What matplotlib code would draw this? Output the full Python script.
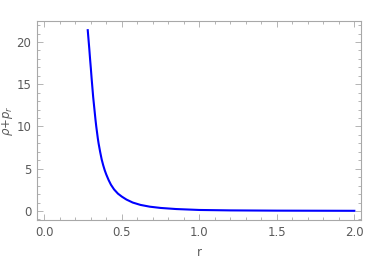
import matplotlib
matplotlib.use('agg')
import matplotlib.pyplot as plt
from matplotlib.ticker import MultipleLocator

# curve
r_vals = [0.280, 0.285, 0.290, 0.295, 0.300, 0.305, 0.310, 0.315, 0.320,
          0.325, 0.330, 0.335, 0.340, 0.345, 0.350, 0.360, 0.370, 0.380,
          0.390, 0.400, 0.415, 0.430, 0.450, 0.475, 0.50, 0.53, 0.57,
          0.62, 0.68, 0.75, 0.85, 1.0, 1.2, 1.5, 2.0]
rho_pr = [21.4, 20.3, 19.2, 18.0, 16.9, 15.7, 14.6, 13.5, 12.6,
          11.7, 10.8, 10.0, 9.3, 8.6, 8.0, 7.0, 6.1, 5.4,
          4.8, 4.3, 3.65, 3.1, 2.55, 2.05, 1.7, 1.35, 1.0,
          0.72, 0.51, 0.36, 0.23, 0.12, 0.07, 0.04, 0.02]

x_ticks = [0.0, 0.5, 1.0, 1.5, 2.0]
y_ticks = [0, 5, 10, 15, 20]

frame_col = '#a8a8a8'
text_col = '#5a5a5a'

fig = plt.figure(figsize=(3.82, 2.61), dpi=100)
ax = fig.add_axes([0.097, 0.157, 0.848, 0.763])

ax.plot(r_vals, rho_pr, color='#0000ff', lw=1.5)

ax.set_xlim(-0.047, 2.043)
ax.set_ylim(-1.07, 22.5)
ax.set_xticks(x_ticks)
ax.set_xticklabels(["{:.1f}".format(t) for t in x_ticks])
ax.set_yticks(y_ticks)
ax.xaxis.set_minor_locator(MultipleLocator(0.1))
ax.yaxis.set_minor_locator(MultipleLocator(1))

for s in ax.spines.values():
    s.set_color(frame_col)
    s.set_linewidth(0.8)

ax.tick_params(which='both', direction='in', top=True, right=True,
               color=frame_col, labelcolor=text_col, labelsize=8.5, width=0.6)
ax.tick_params(which='major', length=4, pad=4)
ax.tick_params(which='minor', length=2)

ax.set_xlabel("r", color=text_col, fontsize=8.5, labelpad=5)
ax.set_ylabel(r"$\rho$+$p_r$", color=text_col, fontsize=8.5, labelpad=1)

fig.savefig("out.png", dpi=100)
plt.close()
